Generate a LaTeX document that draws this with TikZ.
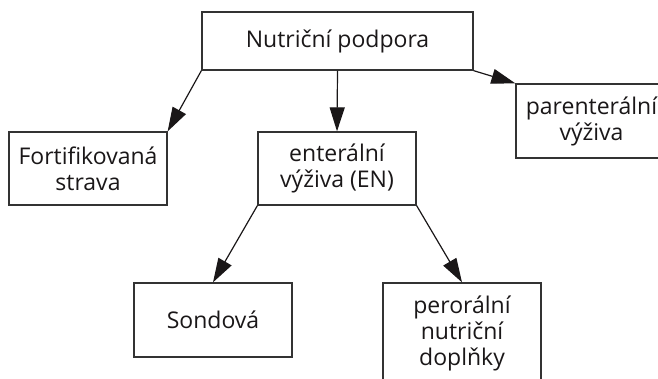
\documentclass[tikz,border=0pt]{standalone}
\usepackage{fontspec}
\setmainfont{Open Sans}
\usetikzlibrary{arrows.meta, positioning}
\definecolor{inkdark}{HTML}{1A1718}
\definecolor{framegray}{HTML}{333333}
\tikzset{
  box/.style={draw=framegray, line width=1.3pt, fill=white, align=center,
              font=\fontsize{23pt}{26pt}\selectfont, text=inkdark,
              minimum width=158pt, inner sep=2pt},
  flow/.style={-{Triangle[length=24pt, width=15pt]}, line width=1.2pt, color=inkdark},
}

\begin{document}
\begin{tikzpicture}[x=1pt, y=-1pt]
  \useasboundingbox (0,0) rectangle (658,378);
  \clip (0,0) rectangle (658,378);
  \node[box, minimum width=271pt, minimum height=58pt] (np)  at (337.5,41)  {Nutriční podpora};
  \node[box, minimum width=151pt, minimum height=74pt] (par) at (591.5,121) {parenterální\\výživa};
  \node[box, minimum height=73pt] (fort) at (88,168.5)  {Fortifikovaná\\strava};
  \node[box, minimum height=73pt] (ent)  at (337,168.5) {enterální\\výživa (EN)};
  \node[box, minimum height=74pt] (son)  at (213,320)   {Sondová};
  \node[box, minimum height=100pt] (per) at (462,333)   {perorální\\nutriční\\doplňky};
  \foreach \u/\v in {np.south west/fort.north east, np.south/ent.north,
                     np.south east/par.north west, ent.south west/son.north,
                     ent.south east/per.north}
    \draw[flow] (\u) -- (\v);
\end{tikzpicture}
\end{document}
